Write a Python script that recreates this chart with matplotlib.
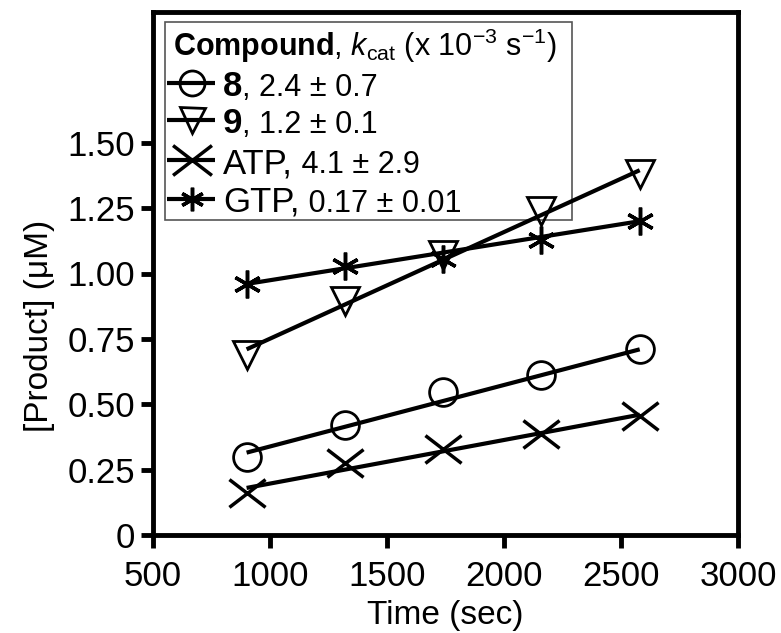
import matplotlib
matplotlib.use("Agg")
import matplotlib.pyplot as plt
from matplotlib.patches import Rectangle
from matplotlib.path import Path

plt.rcParams['font.family'] = ['Liberation Sans', 'DejaVu Sans']
plt.rcParams['mathtext.fontset'] = 'custom'
plt.rcParams['mathtext.rm'] = 'Liberation Sans'
plt.rcParams['mathtext.it'] = 'Liberation Sans:italic'
plt.rcParams['mathtext.bf'] = 'Liberation Sans:bold'

# ---- data ----
time_s = [900, 1320, 1740, 2160, 2580]
cmpd8 = [0.30, 0.42, 0.545, 0.61, 0.71]
cmpd9 = [0.69, 0.895, 1.07, 1.24, 1.38]
atp = [0.16, 0.275, 0.327, 0.388, 0.454]
gtp = [0.96, 1.027, 1.057, 1.127, 1.20]

fit_x = [900, 2580]
fit8 = [0.315, 0.71]
fit9 = [0.71, 1.395]
fit_atp = [0.18, 0.46]
fit_gtp = [0.96, 1.20]

legend_big = ["8", "9", "ATP,", "GTP,"]
legend_small = [", 2.4 \u00b1 0.7", ", 1.2 \u00b1 0.1", " 4.1 \u00b1 2.9", " 0.17 \u00b1 0.01"]
legend_bold = [True, True, False, False]

xticks = [500, 1000, 1500, 2000, 2500, 3000]
yticks = [0, 0.25, 0.5, 0.75, 1.0, 1.25, 1.5]
ytick_labels = ["0", "0.25", "0.50", "0.75", "1.00", "1.25", "1.50"]

# slightly wide "x" marker, as in the reference
wide_x = Path([(-0.65, -0.5), (0.65, 0.5), (-0.65, 0.5), (0.65, -0.5)],
              [Path.MOVETO, Path.LINETO, Path.MOVETO, Path.LINETO])

W, H = 781, 633
fig = plt.figure(figsize=(W / 100, H / 100), dpi=100)
ax = fig.add_axes([153 / W, (H - 535) / H, (738 - 153) / W, (535 - 12) / H])

styles = [
    dict(marker='o', ms=20, mfc='none', mec='black', mew=2.0),
    dict(marker='v', ms=20, mfc='none', mec='black', mew=2.0),
    dict(marker=wide_x, ms=26, mec='black', mew=2.5),
    dict(marker=(6, 2, 0), ms=20, mec='black', mew=2.5),
]
series = [cmpd8, cmpd9, atp, gtp]
fits = [fit8, fit9, fit_atp, fit_gtp]

for ys, fy, st in zip(series, fits, styles):
    ax.plot(fit_x, fy, color='black', lw=3, solid_capstyle='butt', zorder=3)
    ax.plot(time_s, ys, ls='none', zorder=4, **st)

ax.set_xlim(500, 3000)
ax.set_ylim(0, 2.0)
ax.set_xticks(xticks)
ax.set_xticklabels([str(x) for x in xticks])
ax.set_yticks(yticks)
ax.set_yticklabels(ytick_labels)
for s in ax.spines.values():
    s.set_linewidth(3.5)
ax.tick_params(direction='out', length=9, width=3.5, labelsize=25)
ax.tick_params(axis='x', pad=9)
ax.tick_params(axis='y', pad=4)
ax.set_xlabel("Time (sec)", fontsize=24, labelpad=5)
ax.set_ylabel("[Product] (\u03bcM)", fontsize=24)
ax.yaxis.set_label_coords(-0.1675, 0.40)

# ---- manual legend ----
x0, x1 = 0.0205, 0.716
y0, y1 = 0.602, 0.981
ax.add_patch(Rectangle((x0, y0), x1 - x0, y1 - y0, transform=ax.transAxes,
                       fill=False, edgecolor='#555555', lw=1.2, zorder=2))
ax.text(0.0342, 0.943, r"$\mathbf{Compound}$, $k_\mathrm{cat}$ (x 10$^{-3}$ s$^{-1}$)",
        transform=ax.transAxes, fontsize=22, va='center_baseline', ha='left', zorder=6)
row_y = [0.864, 0.794, 0.717, 0.643]
hstyles = [
    dict(marker='o', ms=18, mfc='none', mec='black', mew=2.0),
    dict(marker='v', ms=18, mfc='none', mec='black', mew=2.0),
    dict(marker=wide_x, ms=28, mec='black', mew=2.5),
    dict(marker=(6, 2, 0), ms=17, mec='black', mew=2.5),
]
for ry, big, small, bold, hs in zip(row_y, legend_big, legend_small, legend_bold, hstyles):
    ax.plot([0.0239, 0.106], [ry, ry], transform=ax.transAxes, color='black', lw=3,
            solid_capstyle='butt', zorder=6, clip_on=False)
    ax.plot([0.0667], [ry], transform=ax.transAxes, ls='none', zorder=7, clip_on=False, **hs)
    t = ax.text(0.1197, ry, big, transform=ax.transAxes, fontsize=25,
                fontweight='bold' if bold else 'normal',
                va='center_baseline', ha='left', zorder=6)
    ax.annotate(small, xy=(1, 0), xycoords=t, xytext=(0, 0), textcoords='offset points',
                fontsize=22, va='bottom', ha='left', zorder=6)

fig.savefig("out.png", dpi=100)
